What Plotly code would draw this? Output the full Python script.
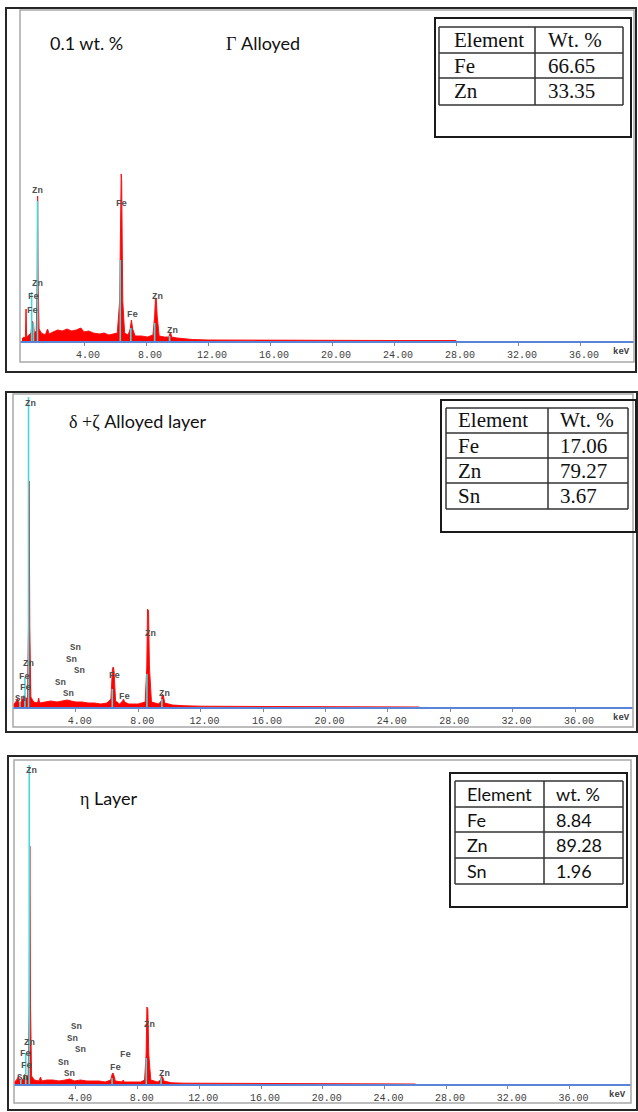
import plotly.graph_objects as go

W, H = 638, 1112

# ---------------- data ----------------
tick_kev = [4, 8, 12, 16, 20, 24, 28, 32, 36]
tick_text = ["4.00", "8.00", "12.00", "16.00", "20.00", "24.00", "28.00", "32.00", "36.00"]

# Panel 1 : 0.1 wt.% Gamma alloyed
p1_red_kev = [0.00, 0.12, 0.22, 0.26, 0.30, 0.45, 0.58, 0.66, 0.72, 0.80, 0.92, 0.98, 1.01, 1.04, 1.10,
              1.25, 1.50, 1.65, 1.75, 2.00, 2.30, 2.60, 2.90, 3.20, 3.50, 3.80, 4.00, 4.30, 4.60, 5.00,
              5.30, 5.60, 5.90, 6.15, 6.30, 6.37, 6.40, 6.43, 6.50, 6.62, 6.85, 6.98, 7.06, 7.14, 7.30,
              7.70, 8.10, 8.45, 8.56, 8.61, 8.66, 8.72, 8.85, 9.20, 9.48, 9.57, 9.66, 10.0, 10.5, 11.0,
              12.0, 16.0, 20.0, 24.0, 28.0, 28.01]
p1_red_cts = [2, 4, 3, 32, 4, 6, 8, 20, 18, 8, 10, 60, 145, 60, 12,
              8, 6, 12, 7, 9, 11, 10, 12, 10, 11, 13, 9, 10, 8, 7,
              8, 6, 7, 8, 40, 160, 167, 160, 40, 8, 6, 12, 21, 12, 5,
              5, 4, 6, 25, 43, 43, 25, 5, 4, 4, 9, 4, 3, 2, 1.5,
              1, 0.6, 0.5, 0.5, 0.5, 0]
p1_cyan_kev = [0.62, 0.74, 1.00, 6.34, 7.02, 8.56, 9.52]
p1_cyan_cts = [49, 18, 140, 81, 13, 18, 5]
p1_lbl_text = ["Zn", "Fe", "Zn", "Fe", "Fe", "Fe", "Zn", "Zn"]
p1_lbl_kev = [1.03, 6.45, 0.97, 0.71, 0.65, 7.10, 8.71, 9.68]
p1_lbl_cts = [150, 137, 57, 44, 30, 26, 44, 10]
p1_elem = ["Element", "Fe", "Zn"]
p1_wt = ["Wt. %", "66.65", "33.35"]

# Panel 2 : delta + zeta alloyed layer
p2_red_kev = [0.00, 0.15, 0.28, 0.33, 0.50, 0.62, 0.70, 0.78, 0.90, 0.97, 1.01, 1.05, 1.12, 1.30, 1.55,
              1.62, 1.68, 2.00, 2.40, 2.80, 3.20, 3.45, 3.70, 4.00, 4.40, 4.80, 5.20, 5.60, 6.00, 6.25,
              6.35, 6.40, 6.45, 6.55, 6.80, 7.00, 7.06, 7.12, 7.40, 8.00, 8.45, 8.55, 8.60, 8.66, 8.72,
              8.85, 9.30, 9.48, 9.55, 9.62, 9.70, 10.2, 11.0, 12.0, 16.0, 20.0, 26.0, 26.01]
p2_red_cts = [2, 5, 9, 4, 5, 8, 12, 7, 10, 80, 226, 80, 10, 5, 4,
              9, 4, 5, 6, 5, 6, 7, 6, 5, 5, 4, 4, 3, 4, 8,
              38, 40, 36, 6, 3, 6, 8, 5, 3, 3, 5, 40, 98, 96, 40,
              5, 3, 6, 13, 11, 4, 2, 1.2, 0.8, 0.5, 0.5, 0.5, 0]
p2_cyan_kev = [0.42, 0.74, 0.97, 6.34, 8.56, 9.52]
p2_cyan_cts = [5, 30, 310, 18, 33, 8]
p2_lbl_text = ["Zn", "Zn", "Fe", "Fe", "Sn", "Sn", "Sn", "Sn", "Sn", "Sn", "Fe", "Fe", "Zn", "Zn"]
p2_lbl_kev = [1.10, 0.96, 0.70, 0.75, 0.44, 3.97, 3.71, 4.24, 3.05, 3.53, 6.45, 7.10, 8.76, 9.68]
p2_lbl_cts = [303, 43, 30, 19, 8, 59, 47, 36, 24, 13, 31, 10, 73, 13]
p2_elem = ["Element", "Fe", "Zn", "Sn"]
p2_wt = ["Wt. %", "17.06", "79.27", "3.67"]

# Panel 3 : eta layer
p3_red_kev = [0.00, 0.15, 0.28, 0.33, 0.50, 0.62, 0.70, 0.78, 0.90, 0.97, 1.01, 1.05, 1.12, 1.30, 1.60,
              1.70, 1.78, 2.10, 2.50, 2.90, 3.30, 3.60, 3.90, 4.30, 4.70, 5.10, 5.50, 5.90, 6.25, 6.35,
              6.40, 6.45, 6.55, 7.00, 7.06, 7.12, 7.60, 8.20, 8.45, 8.55, 8.60, 8.66, 8.72, 8.85, 9.30,
              9.48, 9.55, 9.62, 9.70, 10.2, 11.0, 16.0, 20.0, 26.0, 26.01]
p3_red_cts = [2, 4, 8, 3, 4, 6, 10, 6, 9, 80, 238, 80, 8, 4, 3,
              7, 3, 4, 4, 3, 4, 5, 3, 4, 3, 3, 3, 2, 4, 10,
              11, 9, 3, 2, 4, 2, 2, 2, 4, 30, 77, 75, 30, 4, 2,
              4, 8, 7, 3, 1.2, 0.8, 0.5, 0.5, 0.5, 0]
p3_cyan_kev = [0.42, 0.74, 0.97, 6.34, 8.56, 9.52]
p3_cyan_cts = [4, 31, 319, 6, 26, 6]
p3_lbl_text = ["Zn", "Zn", "Fe", "Fe", "Sn", "Sn", "Sn", "Sn", "Sn", "Sn", "Fe", "Fe", "Zn", "Zn"]
p3_lbl_kev = [1.13, 0.97, 0.70, 0.79, 0.52, 4.03, 3.77, 4.27, 3.16, 3.56, 7.18, 6.54, 8.77, 9.71]
p3_lbl_cts = [313, 41, 30, 18, 6, 57, 45, 34, 21, 10, 29, 16, 59, 10]
p3_elem = ["Element", "Fe", "Zn", "Sn"]
p3_wt = ["wt. %", "8.84", "89.28", "1.96"]

# ---------------- layout geometry (pixels) ----------------
def PX(x):
    return x / W

def PY(y):
    return 1 - y / H

panels = [
    dict(red=(p1_red_kev, p1_red_cts), cyan=(p1_cyan_kev, p1_cyan_cts),
         lbl=(p1_lbl_text, p1_lbl_kev, p1_lbl_cts), elem=p1_elem, wt=p1_wt,
         dom_x=(20, 634), base=341, top=10, zero=22, ppk=15.5,
         outer=(6, 8, 636, 372), inner=(20, 10, 634, 362),
         tbl_out=(435, 18, 631, 137), tbl_cols=(439, 535, 623), tbl_rows=(27, 53, 78, 105),
         pad=(13, 11), tfont="Liberation Serif", tsize=21, kev_x=621),
    dict(red=(p2_red_kev, p2_red_cts), cyan=(p2_cyan_kev, p2_cyan_cts),
         lbl=(p2_lbl_text, p2_lbl_kev, p2_lbl_cts), elem=p2_elem, wt=p2_wt,
         dom_x=(13, 633), base=707, top=394, zero=13.4, ppk=15.6,
         outer=(6, 392, 637, 732), inner=(13, 394, 633, 727),
         tbl_out=(441, 400, 636, 532), tbl_cols=(446, 548, 628), tbl_rows=(408, 433, 458, 483, 509),
         pad=(10, 10), tfont="Liberation Serif", tsize=21, kev_x=621),
    dict(red=(p3_red_kev, p3_red_cts), cyan=(p3_cyan_kev, p3_cyan_cts),
         lbl=(p3_lbl_text, p3_lbl_kev, p3_lbl_cts), elem=p3_elem, wt=p3_wt,
         dom_x=(14, 631), base=1084, top=760, zero=14.3, ppk=15.42,
         outer=(8, 756, 637, 1110), inner=(14, 760, 631, 1103),
         tbl_out=(450, 773, 627, 907), tbl_cols=(455, 544, 623), tbl_rows=(781, 807, 832, 858, 884),
         pad=(10, 10), tfont="Lato", tsize=18, kev_x=617),
]

fig = go.Figure()
shapes = []
annotations = []
layout_axes = {}

for i, p in enumerate(panels):
    n = "" if i == 0 else str(i + 1)
    xa, ya = "x" + n, "y" + n
    rk, rc = p["red"]
    fig.add_trace(go.Scatter(x=rk, y=rc, mode="lines", fill="tozeroy",
                             line=dict(color="#ff1010", width=1), fillcolor="#ff0000",
                             xaxis=xa, yaxis=ya, showlegend=False, hoverinfo="skip"))
    ck, cc = p["cyan"]
    cx, cy = [], []
    for e, h in zip(ck, cc):
        cx += [e, e, None]
        cy += [0, h, None]
    fig.add_trace(go.Scatter(x=cx, y=cy, mode="lines", line=dict(color="#45d8dc", width=1.6),
                             xaxis=xa, yaxis=ya, showlegend=False, hoverinfo="skip"))
    # peak labels
    for t, e, h in zip(*p["lbl"]):
        annotations.append(dict(x=e, y=h, xref=xa, yref=ya, text="<b>%s</b>" % t, showarrow=False,
                                font=dict(family="Liberation Mono", size=9, color="#505050"),
                                xanchor="center", yanchor="middle"))
    x0, x1 = p["dom_x"]
    layout_axes["xaxis" + n] = dict(
        domain=[PX(x0), PX(x1)],
        range=[(x0 - p["zero"]) / p["ppk"], (x1 - p["zero"]) / p["ppk"]],
        anchor=ya, showgrid=False, zeroline=False, showline=True, linecolor="#5a84d8", linewidth=2,
        ticks="outside", ticklen=3, tickcolor="#888", tickwidth=1,
        tickvals=tick_kev, ticktext=tick_text, ticklabelshift=4,
        tickfont=dict(family="Liberation Mono", size=10, color="#404040"),
    )
    layout_axes["yaxis" + n] = dict(
        domain=[PY(p["base"]), PY(p["top"])], range=[0, p["base"] - p["top"]],
        anchor=xa, visible=False, showgrid=False, zeroline=False,
    )
    # frames
    ox0, oy0, ox1, oy1 = p["outer"]
    shapes.append(dict(type="rect", xref="paper", yref="paper", x0=PX(ox0), x1=PX(ox1),
                       y0=PY(oy1), y1=PY(oy0), line=dict(color="#262626", width=2)))
    ix0, iy0, ix1, iy1 = p["inner"]
    shapes.append(dict(type="rect", xref="paper", yref="paper", x0=PX(ix0), x1=PX(ix1),
                       y0=PY(iy1), y1=PY(iy0), line=dict(color="#a8a8a8", width=1.5)))
    # keV
    annotations.append(dict(x=PX(p["kev_x"]), y=PY(p["base"] + 11), xref="paper", yref="paper",
                            text="<b>keV</b>", showarrow=False,
                            font=dict(family="Liberation Mono", size=9, color="#404040"),
                            xanchor="center", yanchor="middle"))
    # table
    tx0, ty0, tx1, ty1 = p["tbl_out"]
    shapes.append(dict(type="rect", xref="paper", yref="paper", x0=PX(tx0), x1=PX(tx1),
                       y0=PY(ty1), y1=PY(ty0), line=dict(color="#1a1a1a", width=2)))
    cols = p["tbl_cols"]
    rows = p["tbl_rows"]
    for yy in rows:
        shapes.append(dict(type="line", xref="paper", yref="paper", x0=PX(cols[0]), x1=PX(cols[-1]),
                           y0=PY(yy), y1=PY(yy), line=dict(color="#333", width=1.5)))
    for xx in cols:
        shapes.append(dict(type="line", xref="paper", yref="paper", x0=PX(xx), x1=PX(xx),
                           y0=PY(rows[-1]), y1=PY(rows[0]), line=dict(color="#333", width=1.5)))
    for r in range(len(p["elem"])):
        yc = (rows[r] + rows[r + 1]) / 2
        for c, txt in enumerate([p["elem"][r], p["wt"][r]]):
            annotations.append(dict(x=PX(cols[c] + p["pad"][c]), y=PY(yc), xref="paper", yref="paper",
                                    text=txt, showarrow=False, xanchor="left", yanchor="middle",
                                    font=dict(family=p["tfont"], size=p["tsize"], color="#111")))

# panel titles
serif = "font-family:Liberation Serif"
titles = [
    ("0.1 wt. %", 48, 43),
    ("<span style='%s'>Γ</span> Alloyed" % serif, 224, 43),
    ("<span style='%s'>δ +ζ</span> Alloyed layer" % serif, 67, 421),
    ("<span style='%s'>η</span> Layer" % serif, 78, 798),
]
for t, x, y in titles:
    annotations.append(dict(x=PX(x), y=PY(y), xref="paper", yref="paper", text=t, showarrow=False,
                            xanchor="left", yanchor="middle",
                            font=dict(family="Lato", size=18, color="#111")))

fig.update_layout(width=W, height=H, margin=dict(l=0, r=0, t=0, b=0),
                  paper_bgcolor="white", plot_bgcolor="white",
                  shapes=shapes, annotations=annotations, showlegend=False, **layout_axes)

fig.write_html("out.html", config={"displayModeBar": False},
               post_script="document.body.style.margin='0';document.body.style.overflow='hidden';")
